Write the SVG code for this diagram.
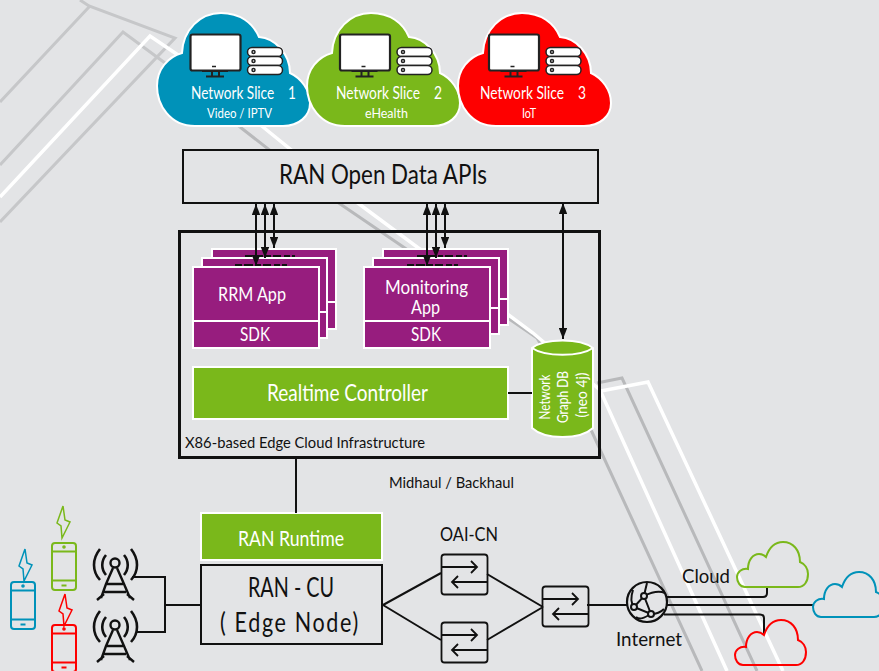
<svg xmlns="http://www.w3.org/2000/svg" xmlns:xlink="http://www.w3.org/1999/xlink" width="879" height="671" viewBox="0 0 879 671">
<style>
text{font-family:Lato,"Open Sans","Liberation Sans",sans-serif}
.bgG{fill:none;stroke:#c6c7c9;stroke-width:3}
.bgD{fill:none;stroke:#b8b9bb;stroke-width:3}
.bgW{fill:none;stroke:#fff;stroke-width:3.500}
.w{fill:#fff}
.k{fill:#111}
.pre{white-space:pre}
.p{fill:#971d7e;stroke:#fff;stroke-width:2}
.g{fill:#7ab81b;stroke:#fff;stroke-width:2}
.l{fill:none;stroke:#111;stroke-width:2}
.a{stroke:#111;stroke-width:2;marker-start:url(#ah);marker-end:url(#ah)}
.f{fill:none;stroke:#111;stroke-width:3;stroke-dasharray:7 2 9 3 5 2 8 3 6 2}
</style>
<defs>
<marker id="ah" viewBox="0 0 9 7" refX="9" refY="3.500" markerWidth="5.500" markerHeight="4.200" markerUnits="strokeWidth" orient="auto-start-reverse" preserveAspectRatio="none"><path d="M0 0L9 3.500L0 7z" fill="#111"/></marker>
<path id="cloud" d="M195 126C170 126 157 105 157 86C157 69 168 57 182 53C183 30 200 13 221 13C240 13 253 23 259 37C275 38 290 54 290 73C301 78 310 90 310 103C310 116 299 126 283 126Z" stroke="#fff" stroke-width="2"/>
<g id="mon">
<rect x="190.500" y="34.500" width="50" height="36" rx="2" fill="#fff" stroke="#222" stroke-width="2.200"/>
<path d="M212 66.500h4" stroke="#222" stroke-width="1.500"/>
<path d="M202 71h26M212 71v5M219 71v5M206 76.500h18" stroke="#222" stroke-width="2" fill="none"/>
<g fill="#fff" stroke="#222" stroke-width="1.500">
<rect x="247.500" y="47.500" width="35" height="9" rx="4.500"/><rect x="247.500" y="56.500" width="35" height="9" rx="4.500"/><rect x="247.500" y="65.500" width="35" height="9" rx="4.500"/>
<circle cx="253.500" cy="52" r="1.500"/><circle cx="253.500" cy="61" r="1.500"/><circle cx="253.500" cy="70" r="1.500"/>
</g>
</g>
<g id="sw">
<rect x="0.500" y="0.500" width="46" height="40" rx="3" fill="none" stroke="#111" stroke-width="1.800"/>
<path d="M0 13H36M30 7L36 13L30 19M46 28H11M17 22L11 28L17 34" fill="none" stroke="#111" stroke-width="1.800"/>
</g>
<g id="tw" fill="none" stroke="#111" stroke-width="2.400">
<circle cx="22" cy="15" r="4.500"/>
<path d="M20 20L13 36L8 50M4 52L11 46M24 20L31 36L37 50M41 52L34 46M14 36H30M11 44H33"/>
<path d="M13 7C8 13 8 21 13 27M31 7C36 13 36 21 31 27M7 1C-1 11 -1 23 7 32M38 1C46 11 46 23 38 32" stroke-width="2.600"/>
</g>
<g id="ph" fill="none" stroke-width="2">
<rect x="1" y="1" width="24" height="47" rx="3"/>
<path d="M1 9.500h24M1 38.500h24M10.500 43.500h5"/>
<circle cx="13" cy="5" r="0.800"/>
</g>
<path id="bolt" fill="none" stroke-width="1.500" d="M7 0L1 17L5 20L6 32L14 16L9 14Z"/>
<path id="oc" d="M8 45C3 45 0 40 0 35C0 30 5 26 11 27C11 18 16 12 22 12C25 12 27 13 29 15C32 6 38 0 46 0C56 0 63 8 63 20C68 22 71 27 71 32C71 40 67 45 61 45Z" fill="none" stroke-width="2"/>
</defs>
<rect width="879" height="671" fill="#e3e4e6"/>
<g id="background">
<path class="bgG" d="M0 102L89 7M80 0L89 6L175 38L0 222M0 165L123 32L165 63L240 127"/>
<path class="bgD" d="M240 127L327 195L537 338L592 432L702 671M597 383L622 378L757 671"/>
<path class="bgW" d="M0 197L150 36L178 55L263 127L347 195L533 333L600 390L727 671M601 391L648 382L783 671"/>
</g>
<g id="slice1"><use xlink:href="#cloud" fill="#0092b9"/><use xlink:href="#mon"/>
<text class="w pre" x="191" y="99" font-size="18" textLength="105" lengthAdjust="spacingAndGlyphs">Network Slice    1</text>
<text class="w" x="207" y="118" font-size="13" textLength="65" lengthAdjust="spacingAndGlyphs">Video / IPTV</text></g>
<g id="slice2"><use xlink:href="#cloud" x="150" fill="#7ab81b"/><use xlink:href="#mon" x="149.500"/>
<text class="w pre" x="336" y="99" font-size="18" textLength="106" lengthAdjust="spacingAndGlyphs">Network Slice    2</text>
<text class="w" x="365" y="118" font-size="13" textLength="43" lengthAdjust="spacingAndGlyphs">eHealth</text></g>
<g id="slice3"><use xlink:href="#cloud" x="301" fill="#fe0000"/><use xlink:href="#mon" x="298.500"/>
<text class="w pre" x="480" y="99" font-size="18" textLength="106" lengthAdjust="spacingAndGlyphs">Network Slice    3</text>
<text class="w" x="522" y="118" font-size="13" textLength="14" lengthAdjust="spacingAndGlyphs">IoT</text></g>
<g id="apis"><rect x="183" y="150" width="415" height="53" fill="#e3e4e6" stroke="#111" stroke-width="2"/>
<text class="k" x="279" y="184" font-size="27" textLength="208" lengthAdjust="spacingAndGlyphs">RAN Open Data APIs</text></g>
<g id="edge"><rect x="179.500" y="231.500" width="420" height="226" fill="none" stroke="#111" stroke-width="3"/>
<text class="k" x="185" y="448" font-size="16" textLength="240" lengthAdjust="spacingAndGlyphs">X86-based Edge Cloud Infrastructure</text></g>
<g id="rrm">
<rect class="p" x="212" y="249" width="124" height="53"/><rect class="p" x="212" y="302" width="124" height="27"/>
<path class="f" d="M245 256.500H295"/>
<rect class="p" x="202" y="258" width="125" height="54"/><rect class="p" x="202" y="312" width="125" height="26"/>
<path class="f" d="M235 265.500H287"/>
<rect class="p" x="193" y="267" width="126" height="54"/><rect class="p" x="193" y="321" width="126" height="27"/>
<text class="w" x="218" y="301" font-size="20" textLength="68" lengthAdjust="spacingAndGlyphs">RRM App</text>
<text class="w" x="240" y="341" font-size="20" textLength="30" lengthAdjust="spacingAndGlyphs">SDK</text></g>
<g id="monitoring">
<rect class="p" x="383" y="249" width="125" height="50"/><rect class="p" x="383" y="299" width="125" height="26"/>
<path class="f" d="M417 256.500H467"/>
<rect class="p" x="373" y="258" width="126" height="50"/><rect class="p" x="373" y="308" width="126" height="26"/>
<path class="f" d="M407 265.500H458"/>
<rect class="p" x="364" y="267" width="126" height="54"/><rect class="p" x="364" y="321" width="126" height="27"/>
<text class="w" x="385" y="294" font-size="19" textLength="83" lengthAdjust="spacingAndGlyphs">Monitoring</text>
<text class="w" x="411" y="314" font-size="19" textLength="29" lengthAdjust="spacingAndGlyphs">App</text>
<text class="w" x="411" y="341" font-size="20" textLength="30" lengthAdjust="spacingAndGlyphs">SDK</text></g>
<g id="controller"><rect class="g" x="193" y="367" width="315" height="52"/>
<text class="w" x="267" y="401" font-size="23" textLength="161" lengthAdjust="spacingAndGlyphs">Realtime Controller</text></g>
<g id="graphdb">
<path d="M532 348C545 338 580 338 593 348V428C580 440 545 440 532 428Z" fill="#7ab81b" stroke="#fff" stroke-width="2"/>
<path d="M532 348C545 357 580 357 593 348" fill="none" stroke="#fff" stroke-width="2"/>
<text class="w" text-anchor="middle" font-size="15" transform="translate(550 397) rotate(-90)" textLength="45" lengthAdjust="spacingAndGlyphs">Network</text>
<text class="w" text-anchor="middle" font-size="15" transform="translate(568 397) rotate(-90)" textLength="52" lengthAdjust="spacingAndGlyphs">Graph DB</text>
<text class="w" text-anchor="middle" font-size="15" transform="translate(587 395) rotate(-90)" textLength="45" lengthAdjust="spacingAndGlyphs">(neo 4j)</text>
</g>
<g id="runtime"><rect class="g" x="201" y="513" width="181" height="47"/>
<text class="w" x="238" y="546" font-size="21" textLength="106" lengthAdjust="spacingAndGlyphs">RAN Runtime</text></g>
<g id="cu"><rect x="201" y="565" width="181" height="79" fill="#e3e4e6" stroke="#111" stroke-width="2"/>
<text class="k pre" x="248" y="597" font-size="26" textLength="86" lengthAdjust="spacingAndGlyphs">RAN - CU</text>
<text class="k" x="220" y="632" font-size="26" letter-spacing="2" textLength="140" lengthAdjust="spacingAndGlyphs">( Edge Node)</text></g>
<g id="connectors">
<line class="a" x1="256" y1="204" x2="256" y2="266"/><line class="a" x1="265" y1="204" x2="265" y2="258"/><line class="a" x1="274" y1="204" x2="274" y2="248"/>
<line class="a" x1="427" y1="204" x2="427" y2="266"/><line class="a" x1="436" y1="204" x2="436" y2="258"/><line class="a" x1="445" y1="204" x2="445" y2="248"/>
<line class="a" x1="563" y1="203" x2="563" y2="339"/>
<path class="l" d="M508 393H532M296 457V513M132 577H165V632H137M165 605H201M383 605L441 573M383 605L441 640M487 574L543 607M487 640L543 607M587 605H627M667 605H813M665 597H763Q767 597 767 593V587M664 614.500H760Q764 614.500 764 618.500V634"/>
</g>
<text class="k" x="389" y="488" font-size="15" textLength="125" lengthAdjust="spacingAndGlyphs">Midhaul / Backhaul</text>
<g id="tower1"><use xlink:href="#tw" x="93" y="548"/></g>
<g id="tower2"><use xlink:href="#tw" x="93" y="610"/></g>
<g id="ue1"><use xlink:href="#ph" x="10" y="581" stroke="#0092b9"/><use xlink:href="#bolt" x="18" y="549" stroke="#0092b9"/></g>
<g id="ue2"><use xlink:href="#ph" x="51" y="542" stroke="#7ab81b"/><use xlink:href="#bolt" x="56" y="506" stroke="#7ab81b"/></g>
<g id="ue3"><use xlink:href="#ph" x="51" y="624" stroke="#fe0000"/><use xlink:href="#bolt" x="58" y="594" stroke="#fe0000"/></g>
<g id="sw1"><use xlink:href="#sw" x="441" y="554"/></g>
<g id="sw2"><use xlink:href="#sw" x="441" y="622"/></g>
<g id="sw3"><use xlink:href="#sw" x="542" y="586"/></g>
<text class="k" x="440" y="541" font-size="20" textLength="58" lengthAdjust="spacingAndGlyphs">OAI-CN</text>
<g id="internet">
<circle cx="647" cy="602" r="20" fill="#e3e4e6" stroke="#111" stroke-width="2.200"/>
<path d="M634 607L644 596L651 614L634 607M644 596C645 591 646 587 647 583M651 614C644 618 640 620 636 617M634 607C630 602 631 596 633 590M644 596C652 592 660 591 665 593M651 614C657 614 661 612 664 609" fill="none" stroke="#111" stroke-width="2"/>
<circle cx="644" cy="596" r="3" fill="#e3e4e6" stroke="#111" stroke-width="2"/><circle cx="651" cy="614" r="3" fill="#e3e4e6" stroke="#111" stroke-width="2"/><circle cx="634" cy="607" r="3" fill="#e3e4e6" stroke="#111" stroke-width="2"/>
<text class="k" x="616" y="646" font-size="20" textLength="66" lengthAdjust="spacingAndGlyphs">Internet</text></g>
<g id="cloudG"><use xlink:href="#oc" x="737" y="542" stroke="#7ab81b"/><text class="k" x="682" y="583" font-size="20" textLength="48" lengthAdjust="spacingAndGlyphs">Cloud</text></g>
<g id="cloudB"><use xlink:href="#oc" x="813" y="572" stroke="#0092b9"/></g>
<g id="cloudR"><use xlink:href="#oc" x="735" y="620" stroke="#fe0000"/></g>
</svg>
